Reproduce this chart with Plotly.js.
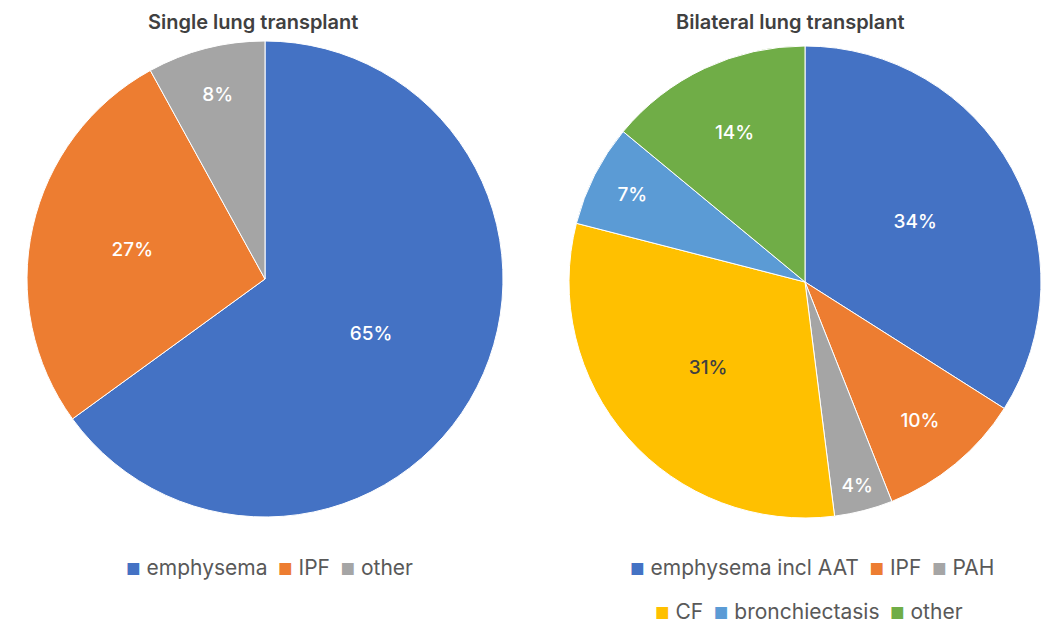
<!DOCTYPE html>
<html><head><meta charset="utf-8">
<script src="https://cdn.plot.ly/plotly-3.0.1.min.js"></script>
<style>html,body{margin:0;padding:0;background:#fff}#chart{width:1055px;height:626px}</style>
</head><body><div id="chart"></div>
<script>
const singleTitle = 'Single lung transplant';
const singleLabels = ['emphysema', 'IPF', 'other'];
const singleValues = [65, 27, 8];
const singleColors = ['#4472C4', '#ED7D31', '#A5A5A5'];
const singleTextColors = ['#ffffff', '#ffffff', '#ffffff'];

const bilatTitle = 'Bilateral lung transplant';
const bilatLabels = ['emphysema incl AAT', 'IPF', 'PAH', 'CF', 'bronchiectasis', 'other'];
const bilatValues = [34, 10, 4, 31, 7, 14];
const bilatColors = ['#4472C4', '#ED7D31', '#A5A5A5', '#FFC000', '#5B9BD5', '#70AD47'];
const bilatTextColors = ['#ffffff', '#ffffff', '#ffffff', '#404040', '#ffffff', '#ffffff'];

const FONT = 'Inter, "Noto Sans", sans-serif';
const W = 1055, H = 626;

function pie(labels, values, colors, textColors, cx, cy, r) {
  return {
    type: 'pie', labels: labels, values: values, sort: false,
    direction: 'clockwise', rotation: 0,
    marker: {colors: colors, line: {color: '#ffffff', width: 1}},
    textinfo: 'percent', texttemplate: '%{percent:.0%}',
    textposition: 'inside', insidetextorientation: 'horizontal',
    insidetextfont: {family: FONT, size: 19, color: textColors, weight: 500},
    hoverinfo: 'none', showlegend: false,
    domain: {x: [(cx - r) / W, (cx + r) / W], y: [1 - (cy + r) / H, 1 - (cy - r) / H]}
  };
}

function legendText(labels, colors, idx) {
  return idx.map(i => '<span style="color:' + colors[i] + ';font-size:16px">■</span> ' + labels[i]).join('\u2002');
}

const data = [
  pie(singleLabels, singleValues, singleColors, singleTextColors, 265, 279, 238),
  pie(bilatLabels, bilatValues, bilatColors, bilatTextColors, 805, 282, 236)
];

const annFont = {family: FONT, size: 21, color: '#595959'};
function ann(text, x, y, font) {
  return {text: text, x: x / W, y: 1 - y / H, xref: 'paper', yref: 'paper', showarrow: false,
          xanchor: 'center', yanchor: 'middle', borderpad: 0, font: font};
}
const titleFont = {family: FONT, size: 20, color: '#404040', weight: 600};
const layout = {
  width: W, height: H, margin: {l: 0, r: 0, t: 0, b: 0},
  paper_bgcolor: '#ffffff', plot_bgcolor: '#ffffff',
  annotations: [
    ann(singleTitle, 253, 22, titleFont),
    ann(bilatTitle, 790, 22, titleFont),
    ann(legendText(singleLabels, singleColors, [0, 1, 2]), 269, 567, annFont),
    ann(legendText(bilatLabels, bilatColors, [0, 1, 2]), 812, 567, annFont),
    ann(legendText(bilatLabels, bilatColors, [3, 4, 5]), 809, 611, annFont)
  ]
};

Plotly.newPlot('chart', data, layout, {displayModeBar: false, staticPlot: true});
</script>
</body></html>
